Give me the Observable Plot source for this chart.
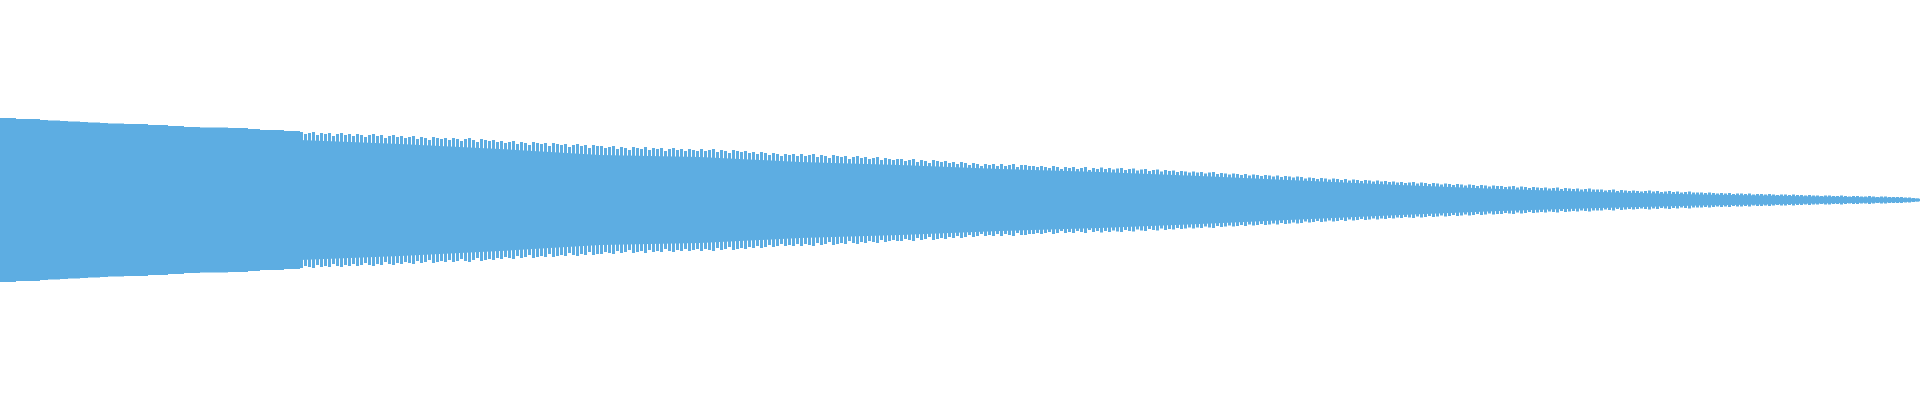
<!DOCTYPE html>
<html>
<head>
<meta charset="utf-8">
<script src="https://cdn.jsdelivr.net/npm/d3@7"></script>
<script src="https://cdn.jsdelivr.net/npm/@observablehq/plot@0.6"></script>
<style>
  html, body { margin: 0; padding: 0; background: #ffffff; }
  #chart svg { display: block; }
</style>
</head>
<body>
<div id="chart"></div>
<script>
// Half-amplitude of each sample (symmetric around zero).
// Leading samples: broad, smooth steps.
const leadAmplitude = [
  82, 82, 82, 82,
  81, 81, 81, 81, 81, 81,
  80, 80,
  79.5, 79.5, 79.5,
  79, 79,
  78.5, 78.5, 78.5,
  78, 78,
  77.5, 77.5, 77.5,
  77, 77,
  76.5, 76.5, 76.5, 76.5,
  76, 76, 76, 76, 76, 76,
  75, 75, 75, 75, 75,
  74, 74, 74, 74,
  73, 73, 73, 73,
  72.5, 72.5, 72.5, 72.5, 72.5, 72.5, 72.5,
  72, 72, 72, 72, 72,
  71, 71, 71,
  70, 70, 70, 70, 70, 70,
  69, 69, 69, 69
];

// Trailing samples: dense, jagged peaks.
const tailAmplitude = [
  68, 66, 67, 68, 65, 67, 66, 67, 64, 66, 67, 65, 66, 64, 66, 65, 63, 65, 66, 64, 65, 62, 64, 65, 63,
  64, 62, 63, 64, 61, 63, 62, 60, 63, 62, 61, 62, 60, 62, 61, 59, 61, 62, 60, 58, 61, 60, 59, 60, 58,
  59, 57, 58, 59, 56, 58, 57, 55, 58, 57, 56, 57, 54, 57, 56, 55, 56, 53, 55, 56, 54, 55, 52, 55, 54,
  54, 52, 53, 54, 51, 53, 52, 50, 53, 52, 51, 53, 50, 52, 51, 52, 49, 51, 52, 50, 51, 49, 51, 50, 49,
  51, 49, 50, 51, 48, 50, 49, 47, 50, 49, 48, 49, 47, 48, 46, 48, 47, 45, 47, 46, 44, 46, 45, 46, 44,
  46, 44, 45, 46, 43, 45, 44, 42, 45, 44, 43, 44, 41, 43, 44, 42, 43, 41, 42, 43, 40, 42, 41, 40, 41,
  41, 39, 40, 41, 38, 40, 39, 37, 40, 39, 38, 39, 37, 38, 36, 38, 37, 35, 37, 36, 34, 36, 35, 36, 34,
  36, 34, 35, 36, 33, 35, 35, 34, 34, 33, 34, 33, 32, 34, 33, 31, 33, 32, 33, 31, 32, 33, 30, 32, 31,
  32.5, 31, 32, 30.5, 31.5, 32, 30, 31, 31.5, 29.5, 30.5, 31, 29, 30, 30.5, 28.5, 30, 29, 29.5, 28, 29, 28.5, 27.5, 28.5, 27.5,
  28, 26.5, 27.5, 28, 26, 27, 26.5, 25.5, 26.5, 26, 25, 26, 24.5, 25.5, 25, 24, 25, 24.5, 23.5, 24.5, 23, 24, 23.5, 22.5, 23.5,
  23, 21.5, 22.5, 22, 21, 22, 21.5, 20.5, 21.5, 21, 20, 21, 19.5, 20.5, 20, 19, 20, 19.5, 18.5, 19.5, 18.5, 19, 18, 18.5, 17.5,
  18, 17, 17.5, 18, 16.5, 17.5, 17, 16, 17, 16.5, 15.5, 16.5, 16, 15, 16, 15.5, 14.5, 15.5, 15, 14, 15, 14.5, 13.5, 14.5, 14,
  14, 13, 13.5, 14, 12.5, 13.5, 13, 12, 13, 12.5, 12, 12.5, 11.5, 12, 12.5, 11, 12, 11.5, 11, 11.5, 10.5, 11, 11.5, 10.5, 10.5,
  10.5, 9.5, 10, 10.5, 9, 10, 9.5, 9, 9.5, 9, 8.5, 9, 9.5, 8.5, 9, 8, 8.5, 9, 8, 8.5, 7.5, 8, 8.5, 7.5, 7.5,
  7.5, 7, 7.5, 7, 6.5, 7, 6.5, 7, 6, 6.5, 6.5, 6, 6.5, 5.5, 6, 6, 5.5, 6, 5.5, 5, 5.5, 5.5, 5, 5.5, 5,
  5, 4.5, 5, 4.5, 4.5, 4, 4.5, 4.5, 4, 4, 4.5, 4, 3.5, 4, 4, 3.5, 3.5, 4, 3.5, 3, 3.5, 3.5, 3, 3, 3,
  3, 2.5, 2.5, 2, 1.5
];

// Solid core beneath the jagged peaks (sample index, half-amplitude).
const coreSample    = [75, 100, 125, 150, 175, 200, 225, 250, 275, 300, 325, 350, 375, 400, 425, 450, 475, 480];
const coreAmplitude = [60, 56, 51, 45, 43, 38, 35, 31, 28, 24, 19.5, 15, 11, 8, 5.5, 3.8, 2.3, 1.2];

const color = "#5dade2";
const nLead = leadAmplitude.length;
const nTotal = nLead + tailAmplitude.length;

const lead = leadAmplitude.map((v, i) => ({i, v}));
const tail = tailAmplitude.map((v, i) => ({i: nLead + i, v}));
const core = coreSample.map((s, k) => ({s, v: coreAmplitude[k]}));

const chart = Plot.plot({
  width: 1920,
  height: 400,
  margin: 0,
  x: {domain: [0, nTotal], axis: null},
  y: {domain: [-200, 200], axis: null},
  marks: [
    Plot.areaY(core, {x: "s", y1: d => -d.v, y2: d => d.v, fill: color}),
    Plot.rect(lead, {x1: d => d.i, x2: d => d.i + 1, y1: d => -d.v, y2: d => d.v, fill: color}),
    Plot.rect(tail, {x1: d => d.i, x2: d => d.i + 1, y1: d => -d.v, y2: d => d.v, fill: color, insetRight: 1})
  ]
});
document.getElementById("chart").appendChild(chart);
</script>
</body>
</html>
